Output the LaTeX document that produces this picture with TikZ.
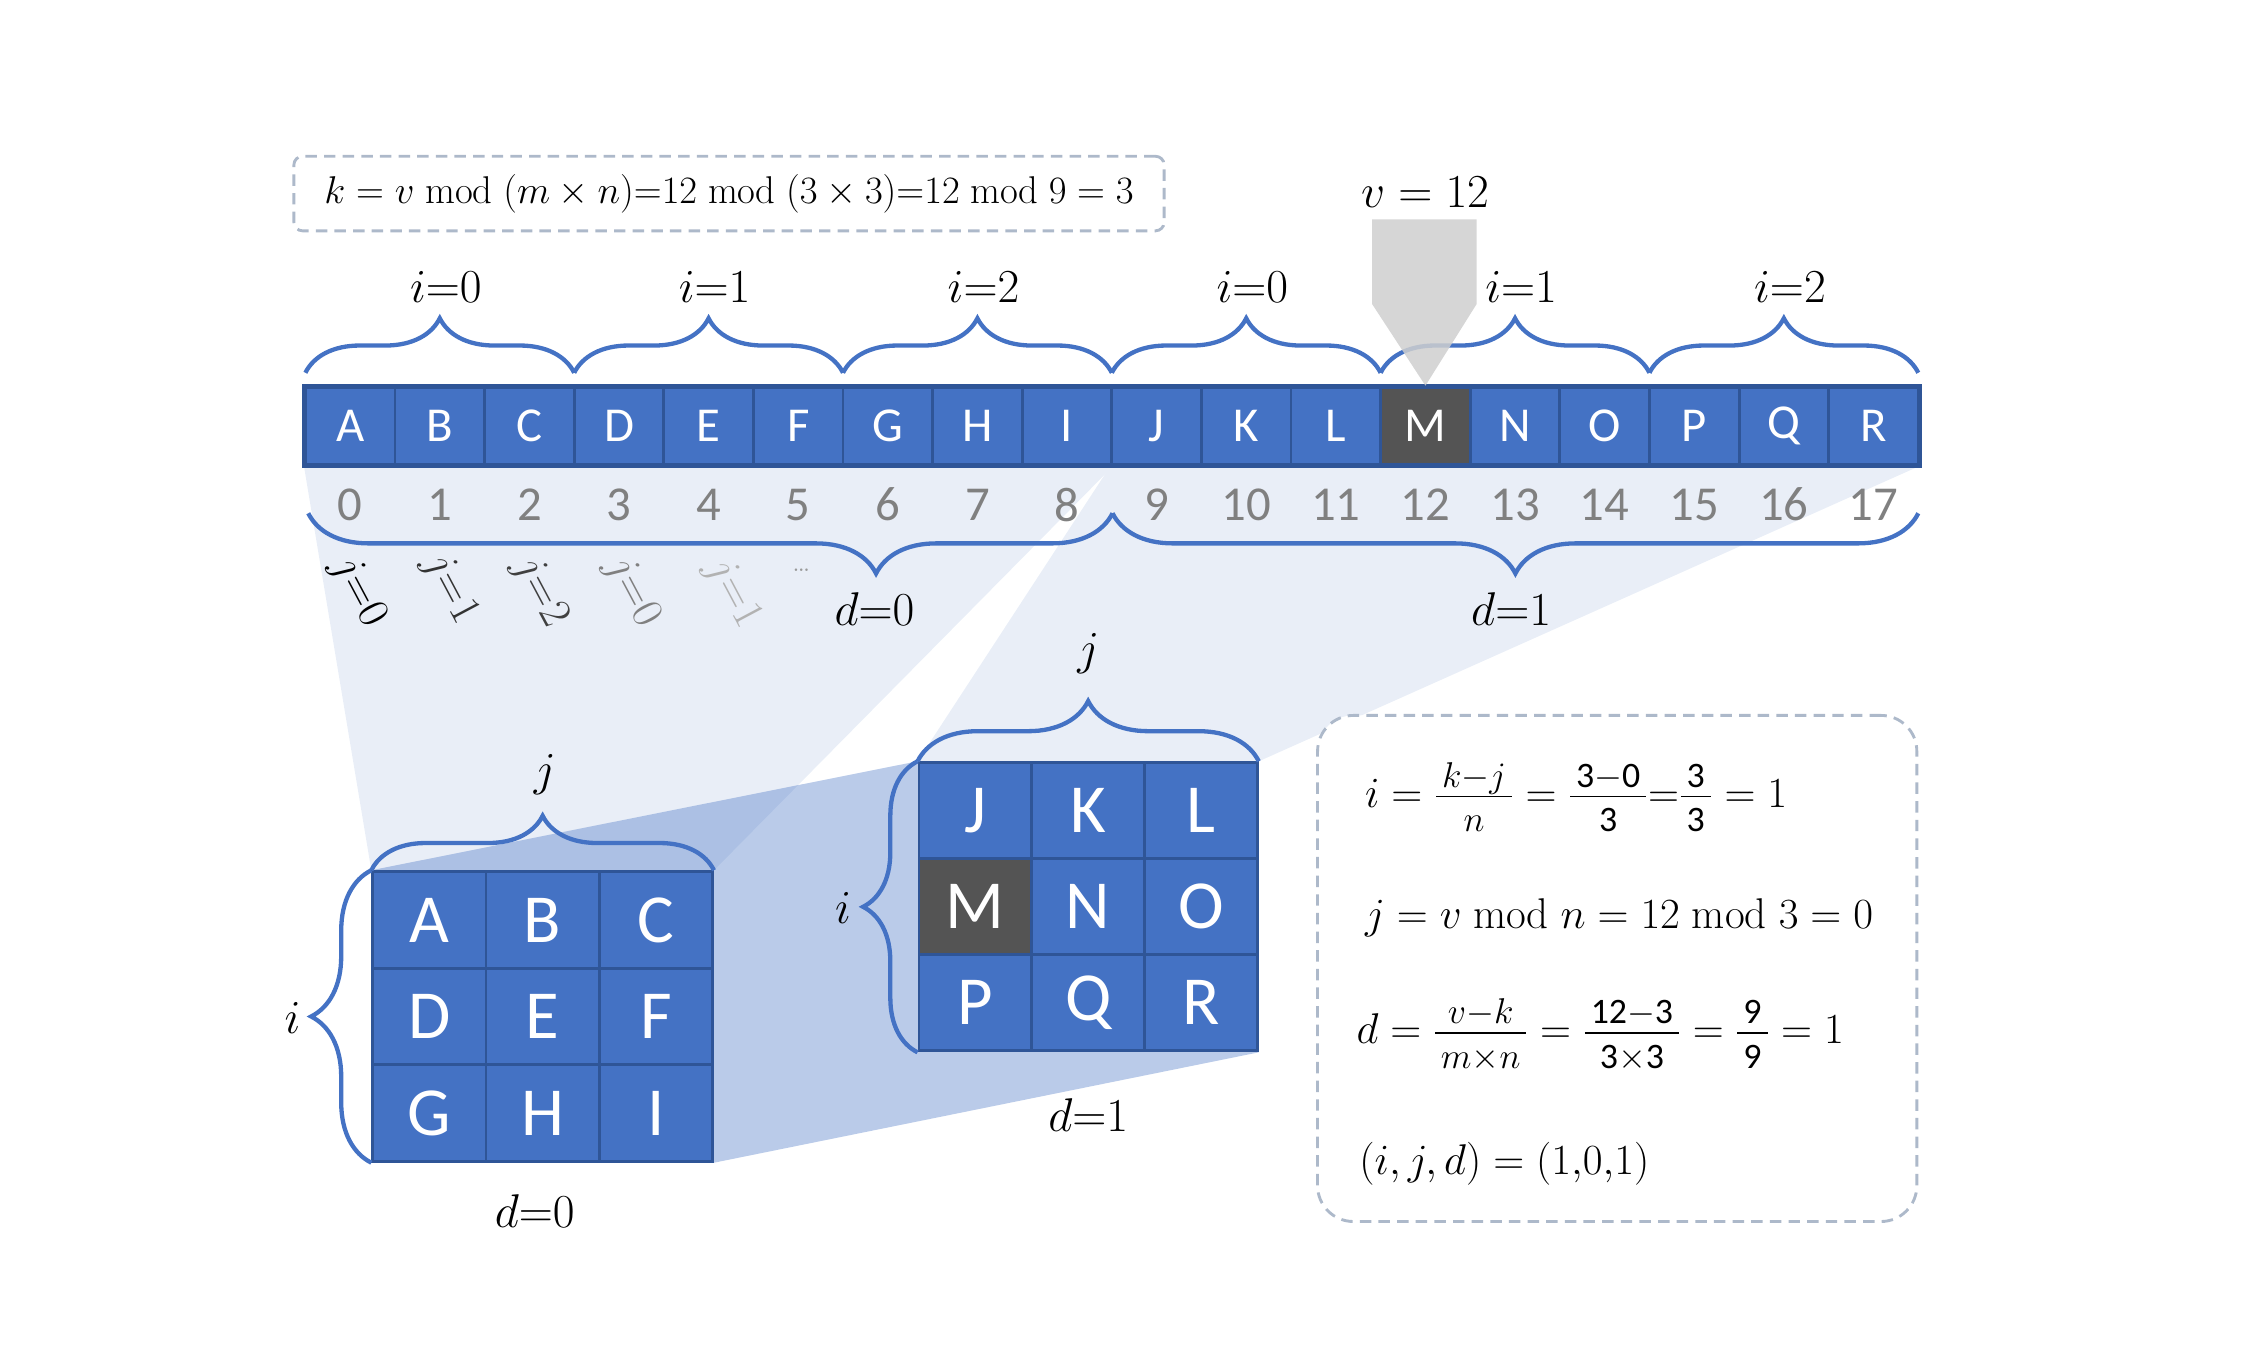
\RequirePackage{fix-cm}
\documentclass[tikz,border=0pt]{standalone}
\usepackage{amsmath}
\usepackage{fontspec}
\setsansfont{Carlito}
\usetikzlibrary{decorations.pathreplacing,backgrounds}
\DeclareMathSizes{30}{30}{25}{18}
\newcommand{\wfrac}[2]{\frac{\,#1\rule[-5pt]{0pt}{0pt}\,}{\,\rule{0pt}{23pt}#2\,}}
\definecolor{obblue}{HTML}{4472C4}
\definecolor{obdark}{HTML}{2F5597}
\definecolor{mgray}{HTML}{545454}
\definecolor{numgray}{HTML}{808080}
\definecolor{dashgray}{HTML}{ADB9CA}
\definecolor{projlight}{HTML}{E9EEF7}
\definecolor{ptrgray}{HTML}{CFCFCF}
\tikzset{
  cellbox/.style={draw=obdark, line width=2pt, text=white, minimum width=62.5pt, minimum height=54pt, inner sep=0pt, font=\sffamily\fontsize{34}{40}\selectfont},
  mcell/.style={draw=obdark, line width=2pt, text=white, inner sep=0pt, font=\sffamily\fontsize{48}{56}\selectfont},
  numlab/.style={text=numgray, inner sep=0pt, font=\sffamily\fontsize{34}{40}\selectfont},
  mlab/.style={inner sep=0pt, font=\fontsize{33}{38}\selectfont},
  flab/.style={inner sep=0pt, anchor=west, font=\fontsize{30}{36}\selectfont},
  jlab/.style={inner sep=0pt, rotate=-62, font=\fontsize{31}{36}\selectfont},
  bracestyle/.style={draw=obblue, line width=3pt, decorate, decoration={brace, amplitude=#1}},
  dashbox/.style={draw=dashgray, line width=2pt, dash pattern=on 8pt off 5pt}
}
\begin{document}
\begin{tikzpicture}[x=1pt,y=-1pt]
\useasboundingbox (0,0) rectangle (1568,954);

% ---- strip ----
\foreach \l/\f [count=\k from 0] in {A/obblue,B/obblue,C/obblue,D/obblue,E/obblue,F/obblue,G/obblue,H/obblue,I/obblue,J/obblue,K/obblue,L/obblue,M/mgray,N/obblue,O/obblue,P/obblue,Q/obblue,R/obblue} {
  \node[cellbox, fill=\f] (c\k) at ({244.25+62.5*\k},297) {\l};
  \node[numlab] (n\k) at ({244.25+62.5*\k},352) {\k};
}
\draw[obdark, line width=3pt] (c0.north west) rectangle (c17.south east);

% ---- top braces ----
\foreach \g/\t in {0/0,1/1,2/2,3/0,4/1,5/2} {
  \pgfmathsetmacro\xa{213+187.5*\g}
  \pgfmathsetmacro\xb{213+187.5*(\g+1)}
  \draw[bracestyle=38pt] (\xa,260) -- (\xb,260);
  \node[mlab] (it\g) at ({\xa+98},200) {$i{=}\t$};
}

% ---- bottom braces ----
\draw[bracestyle=42pt, decoration={aspect=0.294}] (776,358) -- (215,358);
\draw[bracestyle=42pt] (1338,358) -- (776,358);
\node[mlab] (d0) at (610,425) {$d{=}0$};
\node[mlab] (d1) at (1054,425) {$d{=}1$};

% ---- rotated j labels ----
\node[jlab, text=black] (j0) at (250,413) {$j{=}0$};
\node[jlab, text=black!80] (j1) at (314,411) {$j{=}1$};
\node[jlab, text=black!75] (j2) at (377,413) {$j{=}2$};
\node[jlab, text=black!50] (j3) at (441,413) {$j{=}0$};
\node[jlab, text=black!30] (j4) at (511,414) {$j{=}1$};
\node[inner sep=0pt, text=black!40, font=\fontsize{22}{26}\selectfont] (dots) at (559,398) {\ldots};

% ---- left matrix ----
\foreach \l [count=\k from 0] in {A,B,C,D,E,F,G,H,I} {
  \pgfmathtruncatemacro\cc{mod(\k,3)}
  \pgfmathtruncatemacro\rr{int(\k/3)}
  \node[mcell, fill=obblue, minimum width=79pt, minimum height=67.33pt] (L\k) at ({260+79*(\cc+0.5)},{608+67.33*(\rr+0.5)}) {\l};
}
\draw[bracestyle=38pt] (L0.north west) -- (L2.north east);
\draw[bracestyle=42pt] (L6.south west) -- (L0.north west);
\node[mlab] (lj) at (380,540) {$j$};
\node[mlab] (li) at (204,710) {$i$};
\node[mlab] (ld) at (373,845) {$d{=}0$};

% ---- right matrix ----
\foreach \l/\f [count=\k from 0] in {J/obblue,K/obblue,L/obblue,M/mgray,N/obblue,O/obblue,P/obblue,Q/obblue,R/obblue} {
  \pgfmathtruncatemacro\cc{mod(\k,3)}
  \pgfmathtruncatemacro\rr{int(\k/3)}
  \node[mcell, fill=\f, minimum width=78.67pt, minimum height=67pt] (R\k) at ({641+78.67*(\cc+0.5)},{532+67*(\rr+0.5)}) {\l};
}
\draw[bracestyle=42pt] (R0.north west) -- (R2.north east);
\draw[bracestyle=38pt] (R6.south west) -- (R0.north west);
\node[mlab] (rj) at (759,456) {$j$};
\node[mlab] (ri) at (588,633) {$i$};
\node[mlab] (rd) at (759,778) {$d{=}1$};

% ---- projections ----
\begin{scope}[on background layer]
  \fill[projlight] (c0.south west) -- (c8.south east) -- (L2.north east) -- (L0.north west) -- cycle;
  \fill[projlight] (c9.south west) -- (c17.south east) -- (R2.north east) -- (R0.north west) -- cycle;
  \fill[obblue, fill opacity=0.37] (L0.north west) -- (R0.north west) -- (R8.south east) -- (L8.south east) -- cycle;
\end{scope}

% ---- top formula ----
\node[dashbox, rounded corners=6pt, minimum width=607pt, minimum height=52pt, inner sep=0pt, font=\fontsize{27}{32}\selectfont] (kbox) at (508.5,135)
  {$k = v \bmod (m \times n){=}12 \bmod (3 \times 3){=}12 \bmod 9 = 3$};

% ---- pointer ----
\node[mlab] (v) at (994,134) {$v = 12$};
\fill[ptrgray, fill opacity=0.85] (957,153) -- (1030,153) -- (1030,212) -- (c12.north) -- (957,212) -- cycle;

% ---- formula box ----
\node[dashbox, fill=white, rounded corners=25pt, minimum width=418pt, minimum height=353pt, inner sep=0pt] (fbox) at (1128,675.5) {};
\node[flab] (f1) at (952,556) {$i = \wfrac{k-j}{n} = \wfrac{\mathsf{3}-\mathsf{0}}{\mathsf{3}}{=}\wfrac{\mathsf{3}}{\mathsf{3}} = 1$};
\node[flab] (f2) at (952,640) {$j = v \bmod n = 12 \bmod 3 = 0$};
\node[flab] (f3) at (946,722) {$d = \wfrac{v-k}{m\times n} = \wfrac{\mathsf{12}-\mathsf{3}}{\mathsf{3}\times\mathsf{3}} = \wfrac{\mathsf{9}}{\mathsf{9}} = 1$};
\node[flab] (f4) at (948,812) {$(i,j,d) = (1{,}0{,}1)$};
\end{tikzpicture}
\end{document}
